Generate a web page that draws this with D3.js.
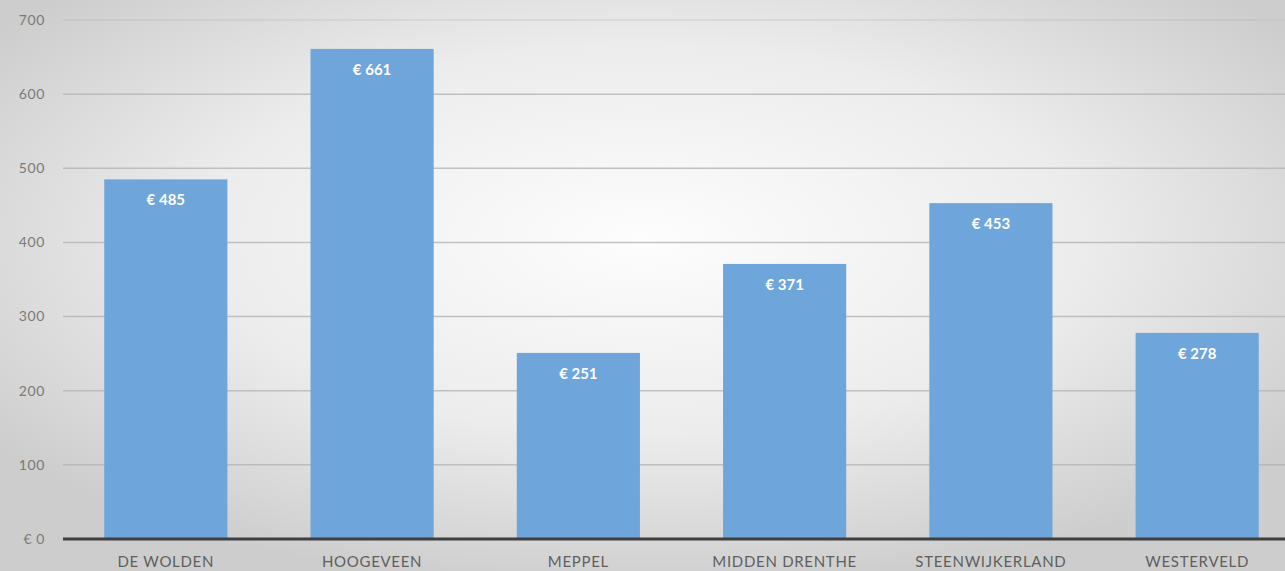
<!DOCTYPE html>
<html>
<head>
<meta charset="utf-8">
<script src="https://cdn.jsdelivr.net/npm/d3@7"></script>
<style>
  html, body { margin: 0; padding: 0; overflow: hidden; background: #fff; }
  svg { display: block; font-family: Lato, "Open Sans", sans-serif; }
</style>
</head>
<body>
<div id="plot"></div>
<script>
// data
const gemeenten = ["DE WOLDEN", "HOOGEVEEN", "MEPPEL", "MIDDEN DRENTHE", "STEENWIJKERLAND", "WESTERVELD"];
const bedragen = [485, 661, 251, 371, 453, 278];
const yTicks = [0, 100, 200, 300, 400, 500, 600, 700];

const width = 1285, height = 571;
const margin = {top: 20, right: -15, bottom: 32, left: 63};

const svg = d3.select("div#plot").append("svg")
    .attr("width", width)
    .attr("height", height);

// background: soft radial gradient like the office chart style
const defs = svg.append("defs");
const bg = defs.append("radialGradient")
    .attr("id", "bg")
    .attr("cx", "50%").attr("cy", "42%")
    .attr("r", "62%")
    .attr("gradientUnits", "objectBoundingBox");
bg.append("stop").attr("offset", "0%").attr("stop-color", "#fdfdfd");
bg.append("stop").attr("offset", "55%").attr("stop-color", "#ececec");
bg.append("stop").attr("offset", "100%").attr("stop-color", "#cdcdcd");

svg.append("rect")
    .attr("width", width)
    .attr("height", height)
    .attr("fill", "url(#bg)");

const x = d3.scaleBand()
    .domain(gemeenten)
    .range([margin.left, width - margin.right])
    .paddingInner(0.403)
    .paddingOuter(0.2);

const y = d3.scaleLinear()
    .domain([0, 700])
    .range([height - margin.bottom, margin.top]);

// gridlines
svg.append("g")
    .selectAll("line")
    .data(yTicks.filter(d => d > 0))
    .enter().append("line")
    .attr("x1", margin.left)
    .attr("x2", width)
    .attr("y1", d => y(d))
    .attr("y2", d => y(d))
    .attr("stroke", "#b4b4b4")
    .attr("stroke-opacity", d => d === 700 ? 0.35 : 0.8)
    .attr("stroke-width", 1.5);

// y labels
svg.append("g")
    .selectAll("text")
    .data(yTicks)
    .enter().append("text")
    .attr("x", 45)
    .attr("y", d => y(d))
    .attr("dy", "0.35em")
    .attr("text-anchor", "end")
    .attr("font-size", "14px")
    .attr("letter-spacing", "0.6px")
    .attr("fill", "#7a7a7a")
    .text(d => d === 0 ? "€ 0" : d);

// bars
svg.append("g")
    .selectAll("rect")
    .data(gemeenten)
    .enter().append("rect")
    .attr("x", d => x(d))
    .attr("y", (d, i) => y(bedragen[i]))
    .attr("width", x.bandwidth())
    .attr("height", (d, i) => y(0) - y(bedragen[i]))
    .attr("fill", "#6ea5da");

// value labels inside bars
svg.append("g")
    .selectAll("text")
    .data(gemeenten)
    .enter().append("text")
    .attr("x", d => x(d) + x.bandwidth() / 2)
    .attr("y", (d, i) => y(bedragen[i]) + 26)
    .attr("text-anchor", "middle")
    .attr("font-size", "15px")
    .attr("font-weight", "bold")
    .attr("fill", "#ffffff")
    .text((d, i) => "€ " + bedragen[i]);

// axis line
svg.append("line")
    .attr("x1", margin.left)
    .attr("x2", width)
    .attr("y1", y(0))
    .attr("y2", y(0))
    .attr("stroke", "#3f3f3f")
    .attr("stroke-width", 3);

// category labels
svg.append("g")
    .selectAll("text")
    .data(gemeenten)
    .enter().append("text")
    .attr("x", d => x(d) + x.bandwidth() / 2)
    .attr("y", height - 4)
    .attr("text-anchor", "middle")
    .attr("font-size", "15px")
    .attr("letter-spacing", "0.7px")
    .attr("fill", "#5f5f5f")
    .text(d => d);
</script>
</body>
</html>
